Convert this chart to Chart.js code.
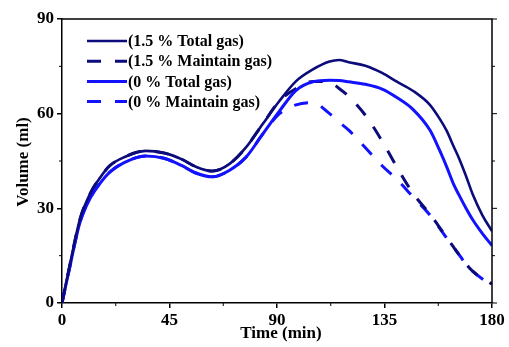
<!DOCTYPE html>
<html>
<head>
<meta charset="utf-8">
<script src="https://cdn.jsdelivr.net/npm/chart.js@4/dist/chart.umd.min.js"></script>
<style>
html,body{margin:0;padding:0;background:#fff;}
#wrap{width:509px;height:347px;}
</style>
</head>
<body>
<div id="wrap"><canvas id="c" width="509" height="347"></canvas></div>
<script>
const times = [0, 3, 7.5, 12, 16, 20, 26, 35, 43, 50, 56, 63, 70, 77, 84, 91, 98, 105, 112, 116, 120, 127, 134, 140, 147, 154, 158, 161, 164, 166, 169, 172, 176, 180];
const total15 = [0, 11, 26.5, 35, 39.8, 43.5, 46.2, 48.2, 47.5, 45.6, 43.2, 41.8, 44, 49.3, 56.7, 64, 70.3, 74, 76.5, 77, 76.3, 75.2, 72.9, 70.2, 67.2, 62.8, 58.5, 54.6, 49.5, 46.2, 40.5, 34.3, 27.8, 22.8];
const maintain15 = [0, 11, 26.5, 35, 39.8, 43.5, 46.2, 48.2, 47.5, 45.6, 43.2, 41.8, 44, 49.3, 56.7, 64, 68, 70.2, 70, 68, 65.5, 59.5, 51.3, 43.3, 34.7, 28.2, 24, 20.8, 17.6, 15.5, 12.5, 10, 7.8, 6];
const total0 = [0, 10.5, 25.5, 33.5, 38, 41.5, 44.5, 46.6, 45.8, 43.6, 41.2, 40, 42, 46.2, 53.5, 60.8, 67.4, 70.1, 70.6, 70.5, 70.1, 69.3, 67.8, 65.2, 61.3, 54.8, 48.5, 43.2, 37.5, 34.5, 30.2, 26.3, 22, 18.2];
const maintain0 = [0, 10.5, 25.5, 33.5, 38, 41.5, 44.5, 46.6, 45.8, 43.6, 41.2, 40, 42, 46.2, 53.5, 60, 62.8, 63.5, 60, 57.3, 54.8, 49.2, 43.5, 39.3, 33.6, 27.9, 23.8, 20.6, 17.6, 15.6, 12.4, 10, 7.6, 5.8];
const seriesNames = ['(1.5 % Total gas)', '(1.5 % Maintain gas)', '(0 % Total gas)', '(0 % Maintain gas)'];
const xMajorTicks = [0, 45, 90, 135, 180];
const xMinorTicks = [22.5, 67.5, 112.5, 157.5];
const yMajorTicks = [0, 30, 60, 90];
const yMinorTicks = [15, 45, 75];

const DARK = '#0b0b7a';
const BLUE = '#1212ff';
const FONT = "'Liberation Serif', 'Times New Roman', serif";

function pts(vals){ return times.map((t,i)=>({x:t,y:vals[i]})); }

const styles = [
  {color: DARK, width: 2.6, dash: [], order: 0},
  {color: DARK, width: 3, dash: [14, 14], order: 2},
  {color: BLUE, width: 3, dash: [], order: 1},
  {color: BLUE, width: 3, dash: [14, 14], order: 3}
];
const seriesVals = [total15, maintain15, total0, maintain0];

const datasets = seriesVals.map((v,i)=>({
  label: seriesNames[i],
  data: pts(v),
  borderColor: styles[i].color,
  backgroundColor: styles[i].color,
  borderWidth: styles[i].width,
  borderDash: styles[i].dash,
  order: styles[i].order,
  pointRadius: 0,
  fill: false,
  cubicInterpolationMode: 'monotone'
}));

const extras = {
  id: 'extras',
  afterDraw(chart){
    const ctx = chart.ctx;
    const a = chart.chartArea;
    const xs = chart.scales.x, ys = chart.scales.y;
    ctx.save();
    ctx.strokeStyle = '#000';
    ctx.lineWidth = 1.5;
    ctx.beginPath();
    ctx.moveTo(a.left, a.top); ctx.lineTo(a.right, a.top); ctx.lineTo(a.right, a.bottom);
    ctx.stroke();
    ctx.lineWidth = 1;
    ctx.beginPath();
    xMinorTicks.forEach(v=>{ const p = xs.getPixelForValue(v); ctx.moveTo(p, a.bottom); ctx.lineTo(p, a.bottom+3); });
    yMinorTicks.forEach(v=>{ const p = ys.getPixelForValue(v); ctx.moveTo(a.left, p); ctx.lineTo(a.left-3, p); ctx.moveTo(a.right, p); ctx.lineTo(a.right+3, p); });
    yMajorTicks.forEach(v=>{ const p = ys.getPixelForValue(v); ctx.moveTo(a.right, p); ctx.lineTo(a.right+5, p); });
    ctx.stroke();
    ctx.fillStyle = '#000';
    ctx.font = "bold 17px " + FONT;
    ctx.textAlign = 'center';
    ctx.textBaseline = 'middle';
    ctx.fillText('Time (min)', 281, 334);
    ctx.save();
    ctx.translate(24, (a.top + a.bottom)/2 + 1);
    ctx.rotate(-Math.PI/2);
    ctx.fillText('Volume (ml)', 0, 0);
    ctx.restore();
    ctx.font = "bold 16px " + FONT;
    ctx.textAlign = 'left';
    chart.data.datasets.forEach((ds,i)=>{
      const y = 41 + i*20.2;
      ctx.beginPath();
      ctx.strokeStyle = ds.borderColor;
      ctx.lineWidth = ds.borderWidth;
      ctx.setLineDash(ds.borderDash);
      ctx.moveTo(87, y); ctx.lineTo(127, y);
      ctx.stroke();
      ctx.setLineDash([]);
      ctx.fillStyle = '#000';
      ctx.fillText(ds.label, 128, y + 1);
    });
    ctx.restore();
  }
};

new Chart(document.getElementById('c'), {
  type: 'line',
  data: { datasets },
  options: {
    responsive: false,
    animation: false,
    events: [],
    layout: { padding: { left: 0, right: 17, top: 19, bottom: 0 } },
    plugins: { legend: { display: false }, tooltip: { enabled: false } },
    scales: {
      x: {
        type: 'linear', min: 0, max: 180,
        afterBuildTicks(s){ s.ticks = xMajorTicks.map(v=>({value:v})); },
        afterFit(s){ s.height = 44; },
        grid: { drawOnChartArea: false, drawTicks: true, tickLength: 5, color: '#000', lineWidth: 1.5 },
        border: { display: true, color: '#000', width: 1.5 },
        ticks: { color: '#000', font: { family: FONT, size: 17, weight: 'bold' }, padding: 2, maxRotation: 0, autoSkip: false }
      },
      y: {
        type: 'linear', min: 0, max: 90,
        afterBuildTicks(s){ s.ticks = yMajorTicks.map(v=>({value:v})); },
        afterFit(s){ s.width = 62; },
        grid: { drawOnChartArea: false, drawTicks: true, tickLength: 5, color: '#000', lineWidth: 1.5 },
        border: { display: true, color: '#000', width: 1.5 },
        ticks: { color: '#000', font: { family: FONT, size: 17, weight: 'bold' }, padding: 3, autoSkip: false }
      }
    }
  },
  plugins: [extras]
});
</script>
</body>
</html>
